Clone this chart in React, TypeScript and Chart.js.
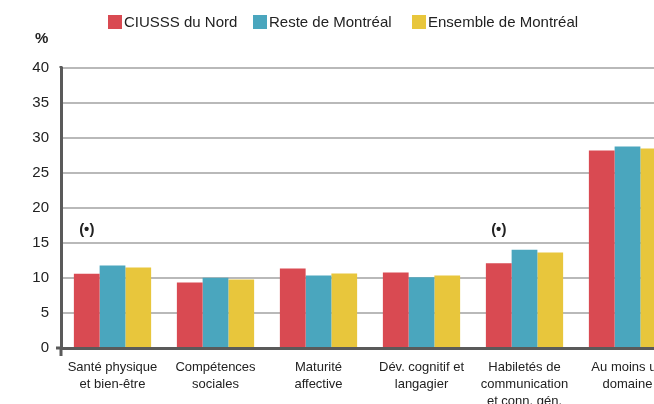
import React, { useEffect, useRef } from 'react';
import { Chart, registerables } from 'chart.js';

Chart.register(...registerables);

// ---- Data ----
const categories: string[][] = [
  ['Santé physique', 'et bien-être'],
  ['Compétences', 'sociales'],
  ['Maturité', 'affective'],
  ['Dév. cognitif et', 'langagier'],
  ['Habiletés de', 'communication', 'et conn. gén.'],
  ['Au moins un', 'domaine'],
];
const seriesNames = ['CIUSSS du Nord', 'Reste de Montréal', 'Ensemble de Montréal'];
const ciusssNord = [10.6, 9.35, 11.35, 10.8, 12.1, 28.2];
const resteMontreal = [11.8, 10.05, 10.35, 10.1, 14.05, 28.8];
const ensembleMontreal = [11.5, 9.8, 10.65, 10.35, 13.65, 28.5];
const seriesColors = ['#D94A52', '#4AA6BE', '#E8C63C'];
const yMin = 0;
const yMax = 40;
const yStep = 5;
const yUnit = '%';
const flaggedCategories = [0, 4];
const flagText = '(•)';
const flagLevel = 16.9;

// ---- Layout / style ----
const FONT = "'Liberation Sans', Arial, Helvetica, sans-serif";
const TEXT = '#222222';
const AXIS = '#5a5a5a';
const GRID = '#b9b9b9';
const legendLeft = [100, 245, 404];

const extrasPlugin = {
  id: 'extras',
  afterDatasetsDraw(chart: any) {
    const { ctx, chartArea, scales } = chart;
    const y = scales.y;
    const y0 = y.getPixelForValue(0);
    ctx.save();
    ctx.strokeStyle = AXIS;
    ctx.lineWidth = 3;
    ctx.beginPath();
    ctx.moveTo(chartArea.left - 5, y0);
    ctx.lineTo(chartArea.left, y0);
    ctx.moveTo(chartArea.left, y0);
    ctx.lineTo(chartArea.left, y0 + 8);
    ctx.moveTo(chartArea.left, chartArea.top);
    ctx.lineTo(chartArea.left, chartArea.top - 2);
    ctx.stroke();
    const meta = chart.getDatasetMeta(0);
    ctx.fillStyle = TEXT;
    ctx.font = `bold 15px ${FONT}`;
    ctx.textAlign = 'center';
    ctx.textBaseline = 'middle';
    flaggedCategories.forEach((i) => {
      const bar = meta.data[i];
      if (bar) ctx.fillText(flagText, bar.x, y.getPixelForValue(flagLevel));
    });
    ctx.restore();
  },
};

function BarChart() {
  const ref = useRef<HTMLCanvasElement | null>(null);
  useEffect(() => {
    if (!ref.current) return;
    const series = [ciusssNord, resteMontreal, ensembleMontreal];
    const chart = new Chart(ref.current, {
      type: 'bar',
      data: {
        labels: categories,
        datasets: series.map((d, i) => ({
          label: seriesNames[i],
          data: d,
          backgroundColor: seriesColors[i],
          borderWidth: 0,
          barPercentage: 1,
          categoryPercentage: 0.75,
        })),
      },
      options: {
        responsive: false,
        animation: false,
        devicePixelRatio: 1,
        layout: { padding: { top: 60, right: 19, left: 0, bottom: 0 } },
        plugins: {
          legend: { display: false },
          tooltip: { enabled: false },
          title: { display: false },
        },
        scales: {
          x: {
            grid: { display: true, color: 'rgba(0,0,0,0)', drawTicks: false },
            border: { display: true, color: AXIS, width: 3 },
            ticks: {
              color: TEXT,
              font: { family: FONT, size: 13, lineHeight: 1.3 },
              padding: 11,
              maxRotation: 0,
              autoSkip: false,
            },
            afterFit: (s: any) => {
              s.height = 56;
            },
          },
          y: {
            min: yMin,
            max: yMax,
            grid: {
              color: (c: any) => (c.tick && c.tick.value === 0 ? 'rgba(0,0,0,0)' : GRID),
              lineWidth: 2,
              drawTicks: false,
            },
            border: { display: true, color: AXIS, width: 3 },
            ticks: {
              stepSize: yStep,
              color: TEXT,
              font: { family: FONT, size: 15 },
              padding: 12,
            },
            afterFit: (s: any) => {
              s.width = 53;
            },
          },
        },
      },
      plugins: [extrasPlugin],
    });
    return () => chart.destroy();
  }, []);
  return <canvas ref={ref} width={690} height={396} style={{ display: 'block', width: 690, height: 396 }} />;
}

export default function App() {
  return (
    <div
      style={{
        position: 'absolute',
        left: 8,
        top: 8,
        width: 646,
        height: 396,
        overflow: 'hidden',
        background: '#fff',
        fontFamily: FONT,
        color: TEXT,
      }}
    >
      <BarChart />
      {seriesNames.map((name, i) => (
        <div
          key={name}
          style={{
            position: 'absolute',
            left: legendLeft[i],
            top: 7,
            height: 14,
            display: 'flex',
            alignItems: 'center',
            whiteSpace: 'nowrap',
            fontSize: 15,
          }}
        >
          <span style={{ display: 'inline-block', width: 14, height: 14, background: seriesColors[i], marginRight: 2 }} />
          <span style={{ lineHeight: '14px' }}>{name}</span>
        </div>
      ))}
      <div
        style={{
          position: 'absolute',
          left: 27,
          top: 22,
          fontSize: 15,
          fontWeight: 'bold',
          lineHeight: '16px',
        }}
      >
        {yUnit}
      </div>
    </div>
  );
}
